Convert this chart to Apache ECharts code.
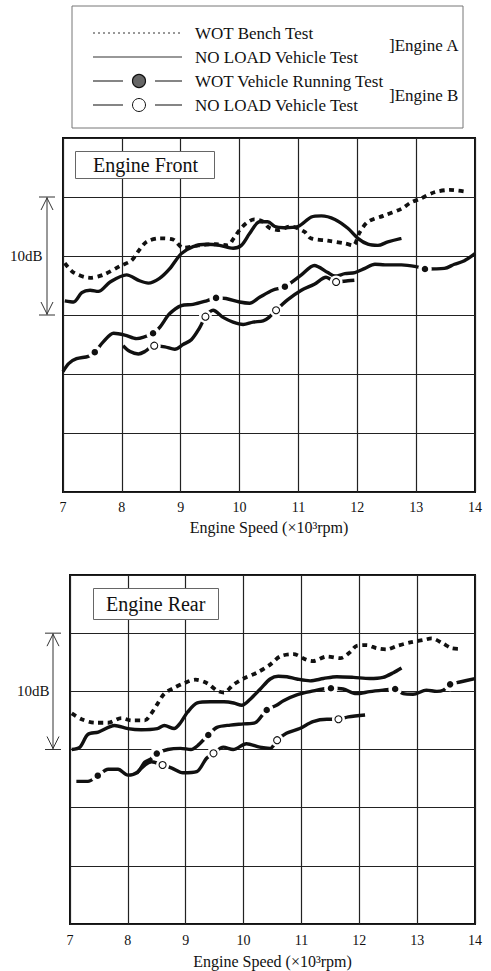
<!DOCTYPE html>
<html><head><meta charset="utf-8">
<script src="https://cdn.jsdelivr.net/npm/echarts@6/dist/echarts.min.js"></script>
<style>html,body{margin:0;padding:0;background:#fff}#c{width:491px;height:971px}</style>
</head><body><div id="c"></div>
<script>
// ---------- data (rpm x1000, relative dB) ----------
const xTicks = [7, 8, 9, 10, 11, 12, 13, 14];
const legendLabels = ['WOT Bench Test', 'NO LOAD Vehicle Test', 'WOT Vehicle Running Test', 'NO LOAD Vehicle Test'];
const engineLabels = [']Engine A', ']Engine B'];
const panelTitles = ['Engine Front', 'Engine Rear'];

// Engine Front
const frontWotBench = [[7.03,19.4],[7.18,18.6],[7.46,18.15],[7.68,18.4],[7.99,19.2],[8.16,19.6],[8.28,20.4],[8.42,21.2],[8.64,21.5],[8.87,21.4],[9.04,20.7],[9.3,20.9],[9.6,21.0],[9.8,20.9],[9.9,21.5],[10.0,22.2],[10.12,22.8],[10.25,23.1],[10.4,22.9],[10.5,22.4],[10.65,22.2],[10.87,22.5],[11.1,22.06],[11.21,21.5],[11.5,21.3],[11.79,21.07],[11.93,20.9],[12.04,22.0],[12.18,22.9],[12.44,23.4],[12.75,24.0],[12.9,24.5],[13.09,24.9],[13.31,25.4],[13.57,25.6],[13.85,25.45]];
const frontNoLoadA = [[7.03,16.2],[7.18,16.1],[7.32,16.9],[7.46,17.1],[7.6,17.0],[7.8,17.8],[8.08,18.4],[8.3,17.9],[8.45,17.7],[8.64,18.1],[8.81,18.9],[9.01,20.2],[9.21,20.8],[9.44,21.0],[9.66,20.9],[9.89,20.66],[10.03,20.9],[10.17,21.9],[10.34,22.9],[10.48,22.9],[10.6,22.5],[10.75,22.4],[10.99,22.5],[11.22,23.3],[11.39,23.4],[11.62,23.1],[11.84,22.35],[12.01,21.5],[12.18,21.0],[12.35,20.9],[12.52,21.2],[12.75,21.5]];
const frontWotB = [[7.0,10.2],[7.1,10.9],[7.23,11.3],[7.43,11.5],[7.54,11.85],[7.68,12.7],[7.86,13.45],[8.05,13.3],[8.25,13.0],[8.53,13.45],[8.65,14.0],[8.81,15.1],[9.01,15.8],[9.21,15.9],[9.44,16.2],[9.6,16.45],[9.77,16.4],[10.0,16.1],[10.17,16.0],[10.34,16.5],[10.56,17.1],[10.77,17.4],[11.05,18.4],[11.27,19.2],[11.5,18.6],[11.62,18.3],[11.79,18.5],[11.96,18.6],[12.13,18.95],[12.3,19.3],[12.47,19.25],[12.75,19.25],[13.0,19.1],[13.15,18.9],[13.48,18.95],[13.65,19.3],[13.82,19.6],[14.0,20.2]];
const frontWotBDots = [[7.54,11.85],[8.53,13.45],[9.6,16.45],[10.77,17.4],[13.15,18.9]];
const frontNoLoadB = [[8.02,12.4],[8.14,11.9],[8.28,11.7],[8.39,11.9],[8.55,12.4],[8.73,12.3],[8.9,12.1],[9.04,12.5],[9.18,12.9],[9.32,13.9],[9.42,14.86],[9.55,15.4],[9.72,14.8],[9.89,14.4],[10.06,14.2],[10.23,14.4],[10.4,14.5],[10.5,14.8],[10.62,15.4],[10.82,16.3],[11.05,17.1],[11.27,17.6],[11.47,18.2],[11.64,17.8],[11.84,17.9],[11.95,17.95]];
const frontNoLoadBCircles = [[8.55,12.4],[9.42,14.86],[10.62,15.4],[11.64,17.8]];

// Engine Rear
const rearWotBench = [[7.03,18.1],[7.2,17.6],[7.43,17.3],[7.66,17.3],[7.89,17.7],[8.06,17.5],[8.29,17.5],[8.4,18.06],[8.51,18.9],[8.63,19.8],[8.8,20.3],[8.97,20.7],[9.17,21.0],[9.37,20.7],[9.54,20.06],[9.66,19.9],[9.83,20.6],[10.0,21.1],[10.23,21.6],[10.46,22.3],[10.63,23.0],[10.86,23.2],[11.09,22.7],[11.2,22.6],[11.44,23.0],[11.67,22.85],[11.84,23.36],[11.95,23.9],[12.13,23.97],[12.3,23.7],[12.47,23.6],[12.65,23.9],[12.88,24.2],[13.1,24.4],[13.25,24.55],[13.45,24.1],[13.6,23.7],[13.74,23.65]];
const rearNoLoadA = [[7.03,15.0],[7.17,15.2],[7.31,16.3],[7.49,16.5],[7.77,17.06],[8.0,16.8],[8.23,16.7],[8.51,16.8],[8.63,17.06],[8.8,16.8],[8.91,17.3],[9.03,18.2],[9.2,19.0],[9.43,19.1],[9.66,19.1],[9.83,19.0],[9.97,18.8],[10.11,19.3],[10.29,20.2],[10.46,21.06],[10.6,21.3],[10.75,21.25],[10.92,21.06],[11.15,20.9],[11.38,21.1],[11.61,21.26],[11.9,21.2],[12.18,21.1],[12.41,21.2],[12.59,21.6],[12.73,22.0]];
const rearWotB = [[7.11,12.26],[7.31,12.26],[7.48,12.75],[7.66,13.3],[7.83,13.3],[8.0,12.8],[8.17,13.06],[8.29,13.9],[8.4,14.2],[8.5,14.65],[8.69,15.0],[8.91,15.1],[9.09,15.0],[9.2,15.3],[9.39,16.25],[9.54,16.9],[9.77,17.1],[10.0,17.2],[10.2,17.3],[10.4,18.4],[10.57,18.8],[10.69,19.2],[10.92,19.7],[11.15,19.97],[11.51,20.26],[11.72,20.2],[11.95,19.8],[12.18,19.97],[12.41,20.1],[12.62,20.2],[12.76,19.8],[12.93,19.75],[13.16,20.1],[13.34,20.0],[13.45,20.1],[13.57,20.6],[13.74,20.8],[14.0,21.1]];
const rearWotBDots = [[7.48,12.75],[8.5,14.65],[9.39,16.25],[10.4,18.4],[11.51,20.26],[12.62,20.2],[13.57,20.6]];
const rearNoLoadB = [[8.15,12.95],[8.41,13.95],[8.6,13.67],[8.76,13.4],[8.95,13.0],[9.19,13.1],[9.36,14.25],[9.48,14.67],[9.65,15.2],[9.82,15.0],[10.05,15.5],[10.28,15.2],[10.46,15.1],[10.58,15.8],[10.74,16.4],[10.97,16.8],[11.2,17.4],[11.44,17.6],[11.64,17.6],[11.81,17.8],[12.1,17.97]];
const rearNoLoadBCircles = [[8.6,13.67],[9.48,14.67],[10.58,15.8],[11.64,17.6]];

// ---------- chart ----------
const FONT = 'Liberation Serif';
const INK = '#111';
const chart = echarts.init(document.getElementById('c'), null, {renderer: 'svg'});

function lineSeries(name, data, g, type, width) {
  return {type: 'line', name, data, xAxisIndex: g, yAxisIndex: g, smooth: 0.3, symbol: 'none', showSymbol: false,
    lineStyle: {color: INK, width, type, cap: 'butt', join: 'round'}, z: 2, silent: true, animation: false};
}
function dotSeries(data, g) {
  return {type: 'scatter', data, xAxisIndex: g, yAxisIndex: g, symbol: 'circle', symbolSize: 10,
    itemStyle: {color: INK, borderColor: '#fff', borderWidth: 3.5, opacity: 1}, z: 5, silent: true, animation: false, emphasis: {disabled: true}};
}
function ringSeries(data, g) {
  return [
    {type: 'scatter', data, xAxisIndex: g, yAxisIndex: g, symbol: 'circle', symbolSize: 13,
      itemStyle: {color: '#fff', opacity: 1}, z: 5, silent: true, animation: false, emphasis: {disabled: true}},
    {type: 'scatter', data, xAxisIndex: g, yAxisIndex: g, symbol: 'circle', symbolSize: 7,
      itemStyle: {color: '#fff', borderColor: INK, borderWidth: 1.1, opacity: 1}, z: 6, silent: true, animation: false, emphasis: {disabled: true}}
  ];
}
function xAx(g, margin, gap) {
  return {type: 'value', gridIndex: g, min: 7, max: 14, interval: 1,
    name: 'Engine Speed (×10³rpm)', nameLocation: 'middle', nameGap: gap,
    nameTextStyle: {fontFamily: FONT, fontSize: 16, color: INK},
    axisLine: {show: false}, axisTick: {show: false},
    axisLabel: {fontFamily: FONT, fontSize: 14, color: INK, margin, showMinLabel: true, showMaxLabel: true,
      formatter: v => xTicks.includes(v) ? String(v) : ''},
    splitLine: {show: true, lineStyle: {color: '#222', width: 1.2}}};
}
function yAx(g) {
  return {type: 'value', gridIndex: g, min: 0, max: 30, interval: 5,
    axisLine: {show: false}, axisTick: {show: false}, axisLabel: {show: false},
    splitLine: {show: true, lineStyle: {color: '#222', width: 1.2}}};
}

const panels = [
  {wot: frontWotBench, noA: frontNoLoadA, wotB: frontWotB, dots: frontWotBDots, noB: frontNoLoadB, circles: frontNoLoadBCircles},
  {wot: rearWotBench, noA: rearNoLoadA, wotB: rearWotB, dots: rearWotBDots, noB: rearNoLoadB, circles: rearNoLoadBCircles}
];
const series = [];
panels.forEach((p, g) => {
  series.push(lineSeries('WOT Bench Test', p.wot, g, [5, 4.5], 3.8));
  series.push(lineSeries('NO LOAD Vehicle Test A', p.noA, g, 'solid', 3.4));
  series.push(lineSeries('WOT Vehicle Running Test', p.wotB, g, 'solid', 3.4));
  series.push(lineSeries('NO LOAD Vehicle Test B', p.noB, g, 'solid', 3.4));
  series.push(dotSeries(p.dots, g));
  series.push(...ringSeries(p.circles, g));
});

chart.setOption({
  animation: false,
  backgroundColor: '#fff',
  title: [
    {text: panelTitles[0], left: 75, top: 151, padding: [3, 17, 3, 18], borderColor: '#666', borderWidth: 1, backgroundColor: '#fff',
      textStyle: {fontFamily: FONT, fontSize: 20, fontWeight: 'normal', color: INK, lineHeight: 22}},
    {text: panelTitles[1], left: 93, top: 588, padding: [5, 13, 5, 13], borderColor: '#666', borderWidth: 1, backgroundColor: '#fff',
      textStyle: {fontFamily: FONT, fontSize: 20, fontWeight: 'normal', color: INK, lineHeight: 22}}
  ],
  grid: [
    {left: 63, top: 138, width: 412, height: 354, show: true, borderColor: INK, borderWidth: 2, backgroundColor: 'transparent'},
    {left: 70, top: 575, width: 405, height: 349, show: true, borderColor: INK, borderWidth: 2, backgroundColor: 'transparent'}
  ],
  xAxis: [xAx(0, 8, 27), xAx(1, 9, 29)],
  yAxis: [yAx(0), yAx(1)],
  series
});

// ---------- annotations: legend + 10dB brackets ----------
function txt(x, y, t, size) {
  return {type: 'text', x, y, style: {text: t, fontFamily: FONT, fontSize: size, fill: INK, verticalAlign: 'middle', textVerticalAlign: 'middle'}};
}
function bracket(g, x, textX) {
  const yT = chart.convertToPixel({yAxisIndex: g}, 25);
  const yB = chart.convertToPixel({yAxisIndex: g}, 15);
  const st = {stroke: '#333', lineWidth: 1, fill: 'none'};
  return [
    {type: 'line', shape: {x1: x, y1: yT, x2: x, y2: yB}, style: st},
    {type: 'line', shape: {x1: x - 8, y1: yT, x2: x + 8, y2: yT}, style: st},
    {type: 'line', shape: {x1: x - 8, y1: yB, x2: x + 8, y2: yB}, style: st},
    {type: 'polyline', shape: {points: [[x - 6, yT + 13], [x, yT + 1], [x + 6, yT + 13]]}, style: st},
    {type: 'polyline', shape: {points: [[x - 6, yB - 13], [x, yB - 1], [x + 6, yB - 13]]}, style: st},
    txt(textX, (yT + yB) / 2, '10dB', 15)
  ];
}
const rowsY = [33, 57, 81, 105];
const lst = {stroke: '#333', lineWidth: 1.2};
const legendEls = [
  {type: 'rect', shape: {x: 72, y: 6, width: 391, height: 122}, style: {fill: 'none', stroke: '#777', lineWidth: 1}},
  {type: 'line', shape: {x1: 93, y1: rowsY[0], x2: 182, y2: rowsY[0]}, style: {stroke: '#333', lineWidth: 1, lineDash: [2, 3]}},
  {type: 'line', shape: {x1: 93, y1: rowsY[1], x2: 182, y2: rowsY[1]}, style: lst},
  {type: 'line', shape: {x1: 93, y1: rowsY[2], x2: 123, y2: rowsY[2]}, style: lst},
  {type: 'line', shape: {x1: 155, y1: rowsY[2], x2: 182, y2: rowsY[2]}, style: lst},
  {type: 'circle', shape: {cx: 139, cy: rowsY[2], r: 6.5}, style: {fill: '#666', stroke: '#111', lineWidth: 1.2}},
  {type: 'line', shape: {x1: 93, y1: rowsY[3], x2: 123, y2: rowsY[3]}, style: lst},
  {type: 'line', shape: {x1: 155, y1: rowsY[3], x2: 182, y2: rowsY[3]}, style: lst},
  {type: 'circle', shape: {cx: 139, cy: rowsY[3], r: 6.5}, style: {fill: '#fff', stroke: '#111', lineWidth: 1}},
  ...legendLabels.map((t, i) => txt(195, rowsY[i], t, 17)),
  txt(389, 45, engineLabels[0], 17),
  txt(389, 95, engineLabels[1], 17)
];
chart.setOption({graphic: [...legendEls, ...bracket(0, 47, 10), ...bracket(1, 53, 17)]});
</script></body></html>
